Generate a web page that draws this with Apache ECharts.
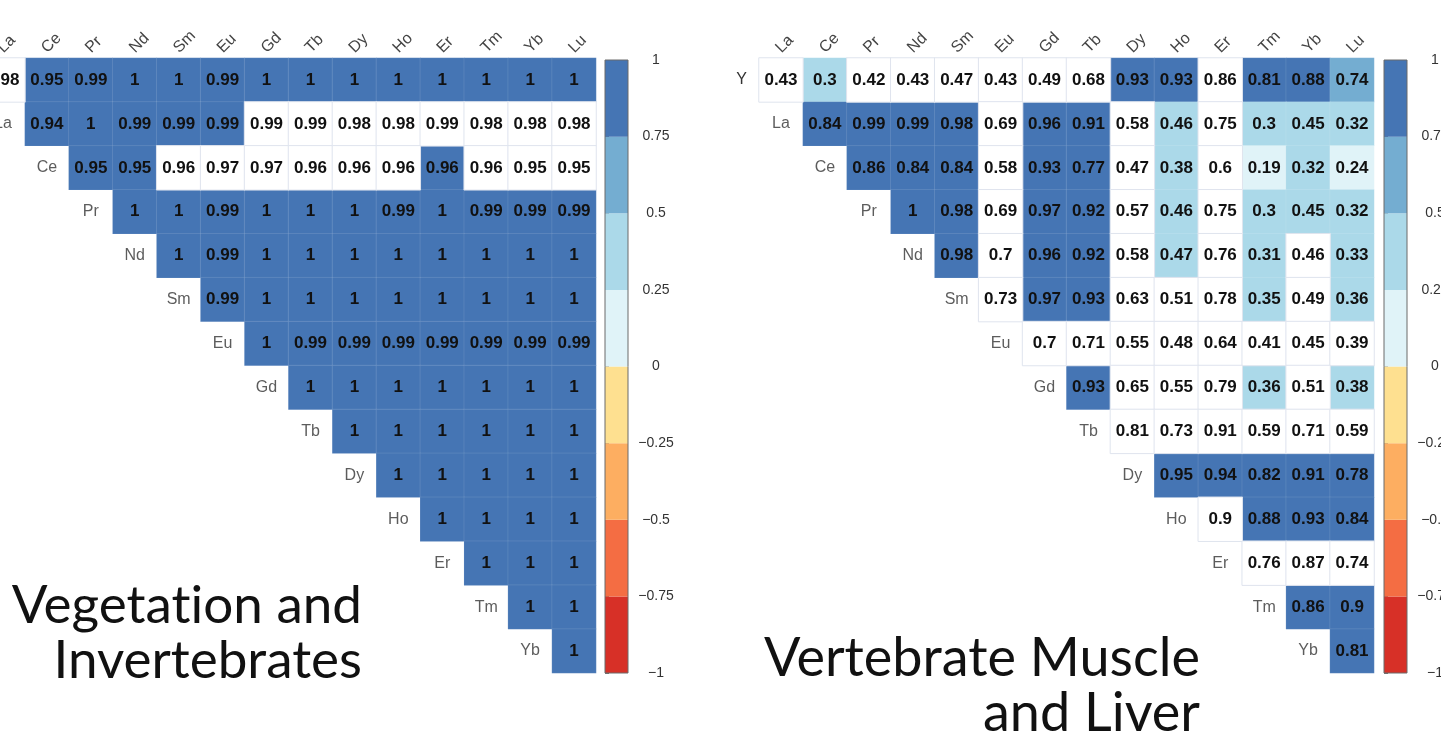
<!DOCTYPE html>
<html>
<head>
<meta charset="utf-8">
<script src="https://cdn.jsdelivr.net/npm/echarts@6/dist/echarts.min.js"></script>
<style>
html,body{margin:0;padding:0;background:#fff;}
#chart{width:1441px;height:745px;}
</style>
</head>
<body>
<div id="chart"></div>
<script>
// ---- data ----
const columns = ['La','Ce','Pr','Nd','Sm','Eu','Gd','Tb','Dy','Ho','Er','Tm','Yb','Lu'];
const rowNames = ['Y','La','Ce','Pr','Nd','Sm','Eu','Gd','Tb','Dy','Ho','Er','Tm','Yb'];

// Vegetation and Invertebrates: row r starts at column r
const vegValues = [
  [0.98,0.95,0.99,1,1,0.99,1,1,1,1,1,1,1,1],
  [0.94,1,0.99,0.99,0.99,0.99,0.99,0.98,0.98,0.99,0.98,0.98,0.98],
  [0.95,0.95,0.96,0.97,0.97,0.96,0.96,0.96,0.96,0.96,0.95,0.95],
  [1,1,0.99,1,1,1,0.99,1,0.99,0.99,0.99],
  [1,0.99,1,1,1,1,1,1,1,1],
  [0.99,1,1,1,1,1,1,1,1],
  [1,0.99,0.99,0.99,0.99,0.99,0.99,0.99],
  [1,1,1,1,1,1,1],
  [1,1,1,1,1,1],
  [1,1,1,1,1],
  [1,1,1,1],
  [1,1,1],
  [1,1],
  [1]
];
// 1 = coloured cell, 0 = blank (white) cell
const vegColoured = [
  [0,1,1,1,1,1,1,1,1,1,1,1,1,1],
  [1,1,1,1,1,0,0,0,0,0,0,0,0],
  [1,1,0,0,0,0,0,0,1,0,0,0],
  [1,1,1,1,1,1,1,1,1,1,1],
  [1,1,1,1,1,1,1,1,1,1],
  [1,1,1,1,1,1,1,1,1],
  [1,1,1,1,1,1,1,1],
  [1,1,1,1,1,1,1],
  [1,1,1,1,1,1],
  [1,1,1,1,1],
  [1,1,1,1],
  [1,1,1],
  [1,1],
  [1]
];

// Vertebrate Muscle and Liver
const vertValues = [
  [0.43,0.3,0.42,0.43,0.47,0.43,0.49,0.68,0.93,0.93,0.86,0.81,0.88,0.74],
  [0.84,0.99,0.99,0.98,0.69,0.96,0.91,0.58,0.46,0.75,0.3,0.45,0.32],
  [0.86,0.84,0.84,0.58,0.93,0.77,0.47,0.38,0.6,0.19,0.32,0.24],
  [1,0.98,0.69,0.97,0.92,0.57,0.46,0.75,0.3,0.45,0.32],
  [0.98,0.7,0.96,0.92,0.58,0.47,0.76,0.31,0.46,0.33],
  [0.73,0.97,0.93,0.63,0.51,0.78,0.35,0.49,0.36],
  [0.7,0.71,0.55,0.48,0.64,0.41,0.45,0.39],
  [0.93,0.65,0.55,0.79,0.36,0.51,0.38],
  [0.81,0.73,0.91,0.59,0.71,0.59],
  [0.95,0.94,0.82,0.91,0.78],
  [0.9,0.88,0.93,0.84],
  [0.76,0.87,0.74],
  [0.86,0.9],
  [0.81]
];
const vertColoured = [
  [0,1,0,0,0,0,0,0,1,1,0,1,1,1],
  [1,1,1,1,0,1,1,0,1,0,1,1,1],
  [1,1,1,0,1,1,0,1,0,1,1,1],
  [1,1,0,1,1,0,1,0,1,1,1],
  [1,0,1,1,0,1,0,1,0,1],
  [0,1,1,0,0,0,1,0,1],
  [0,0,0,0,0,0,0,0],
  [1,0,0,0,1,0,1],
  [0,0,0,0,0,0],
  [1,1,1,1,1],
  [0,1,1,1],
  [0,0,0],
  [1,1],
  [1]
];

const colorbarTicks = [-1,-0.75,-0.5,-0.25,0,0.25,0.5,0.75,1];
// \u200C keeps "t" and "i" from forming a ligature
const titles = ['Vegetat\u200Cion and\nInvertebrates', 'Vertebrate Muscle\nand Liver'];

// ---- styles ----
const binColors = ['#d73027','#f46d43','#fdae61','#fee090','#e0f3f8','#abd9e9','#74add1','#4575b4'];
const cellFont = 'Liberation Sans';

function buildCells(values, mask, wantColoured) {
  const out = [];
  values.forEach((row, r) => {
    row.forEach((v, i) => {
      const c = r + i;
      if ((mask[r][i] === 1) === wantColoured) out.push([c, r, v]);
    });
  });
  return out;
}
function buildRowLabels() {
  const out = [];
  rowNames.forEach((n, r) => { if (r > 0) out.push({value: [r - 1, r], name: n}); });
  return out;
}
function buildColLabels() {
  return columns.map((n, c) => ({value: [c, 0], name: n}));
}
const bins = [];
for (let i = 0; i < colorbarTicks.length - 1; i++) bins.push([colorbarTicks[i], colorbarTicks[i + 1], i]);

const gridW = 615, gridH = 615, gridTop = 58;
const panels = [
  {left: -19, bar: 605, values: vegValues, mask: vegColoured},
  {left: 759, bar: 1384, values: vertValues, mask: vertColoured}
];

const grid = [], xAxis = [], yAxis = [], series = [];
const colouredIdx = [];
panels.forEach((p, k) => {
  grid.push({left: p.left, top: gridTop, width: gridW, height: gridH,
    containLabel: false, outerBoundsMode: 'none'});
  grid.push({left: p.bar, top: 60, width: 23, height: 613, show: true, z: 10,
    containLabel: false, outerBoundsMode: 'none',
    backgroundColor: 'transparent', borderColor: '#6b6b6b', borderWidth: 1});
  const gi = k * 2;
  xAxis.push({gridIndex: gi, type: 'category', data: columns, position: 'top',
    axisLine: {show: false}, axisTick: {show: false}, splitLine: {show: false},
    axisLabel: {show: false}});
  yAxis.push({gridIndex: gi, type: 'category', data: rowNames, inverse: true,
    axisLine: {show: false}, axisTick: {show: false}, splitLine: {show: false},
    axisLabel: {margin: 12, color: '#333', fontSize: 16, fontFamily: cellFont, interval: 0,
      formatter: v => (v === 'Y' ? 'Y' : '')}});
  xAxis.push({gridIndex: gi + 1, type: 'value', min: 0, max: 1, show: false});
  yAxis.push({gridIndex: gi + 1, type: 'value', min: -1, max: 1, interval: 0.25, position: 'right',
    axisLine: {show: false}, splitLine: {show: false},
    axisTick: {show: true, length: 4, lineStyle: {color: '#777'}},
    axisLabel: {margin: 28, align: 'center', color: '#333', fontSize: 14, fontFamily: cellFont,
      formatter: v => (v < 0 ? '\u2212' + Math.abs(v) : String(v))}});

  const label = {show: true, color: '#111', fontSize: 17, fontWeight: 'bold', fontFamily: cellFont,
    formatter: q => String(q.value[2])};
  colouredIdx.push(series.length);
  series.push({type: 'heatmap', xAxisIndex: gi, yAxisIndex: gi,
    data: buildCells(p.values, p.mask, true), label: label,
    itemStyle: {borderColor: 'rgba(255,255,255,0.1)', borderWidth: 1}, emphasis: {disabled: true}});
  series.push({type: 'heatmap', xAxisIndex: gi, yAxisIndex: gi,
    data: buildCells(p.values, p.mask, false), label: label,
    itemStyle: {color: '#ffffff', borderColor: '#dfe4ee', borderWidth: 1}, emphasis: {disabled: true}});
  series.push({type: 'scatter', xAxisIndex: gi, yAxisIndex: gi, data: buildRowLabels(),
    symbolSize: 1, itemStyle: {color: 'rgba(0,0,0,0)'}, silent: true,
    label: {show: true, position: 'inside', formatter: '{b}', color: '#333', fontSize: 16, fontFamily: cellFont}});
  // rotated column labels above the top row
  series.push({type: 'custom', xAxisIndex: gi, yAxisIndex: gi, data: buildColLabels(), silent: true, clip: false,
    renderItem: (params, api) => {
      const pt = api.coord([api.value(0), api.value(1)]);
      const half = api.size([0, 1])[1] / 2;
      return {type: 'text', x: pt[0] + 3, y: pt[1] - half - 2, rotation: Math.PI / 4,
        style: {text: columns[api.value(0)], textAlign: 'left', textVerticalAlign: 'bottom',
          fill: '#444', font: '16px "Liberation Sans"'}};
    }});
  series.push({type: 'custom', xAxisIndex: gi + 1, yAxisIndex: gi + 1, data: bins, silent: true,
    renderItem: (params, api) => {
      const a = api.coord([0, api.value(1)]);
      const b = api.coord([1, api.value(0)]);
      return {type: 'rect', shape: {x: a[0], y: a[1], width: b[0] - a[0], height: b[1] - a[1]},
        style: {fill: binColors[api.value(2)]}};
    }});
});

const chart = echarts.init(document.getElementById('chart'));
chart.setOption({
  animation: false,
  backgroundColor: '#fff',
  grid, xAxis, yAxis, series,
  visualMap: {type: 'piecewise', show: false, dimension: 2, seriesIndex: colouredIdx,
    pieces: [
      {gte: 0.75, lte: 1, color: binColors[7]},
      {gte: 0.5, lt: 0.75, color: binColors[6]},
      {gte: 0.25, lt: 0.5, color: binColors[5]},
      {gte: 0, lt: 0.25, color: binColors[4]},
      {gte: -0.25, lt: 0, color: binColors[3]},
      {gte: -0.5, lt: -0.25, color: binColors[2]},
      {gte: -0.75, lt: -0.5, color: binColors[1]},
      {gte: -1, lt: -0.75, color: binColors[0]}
    ]},
  graphic: [
    {type: 'text', right: 1441 - 362, top: 578, style: {text: titles[0], fill: '#111',
      font: '53px Lato', lineHeight: 55, align: 'right', textAlign: 'right'}},
    {type: 'text', right: 241, top: 631, style: {text: titles[1], fill: '#111',
      font: '54px Lato', lineHeight: 55, align: 'right', textAlign: 'right'}}
  ]
});
</script>
</body>
</html>
